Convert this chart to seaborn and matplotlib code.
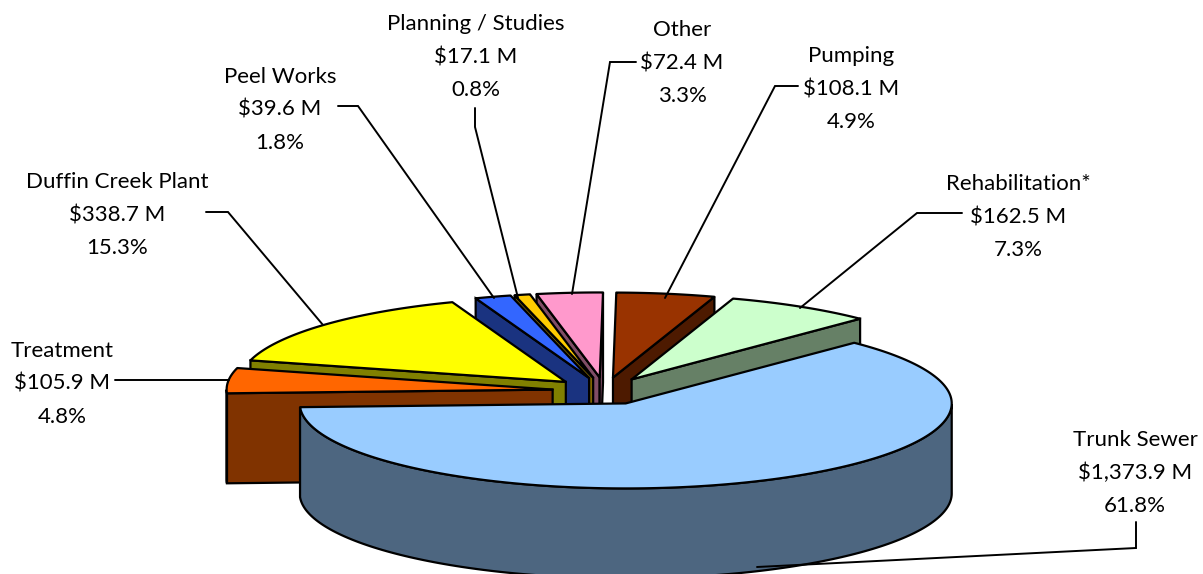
import numpy as np
import seaborn as sns
import matplotlib.pyplot as plt

# data, in pie order (clockwise)
categorias = ["Trunk Sewer", "Treatment", "Duffin Creek Plant", "Peel Works",
              "Planning / Studies", "Other", "Pumping", "Rehabilitation*"]
valores = [1373.9, 105.9, 338.7, 39.6, 17.1, 72.4, 108.1, 162.5]
etiquetas_valor = ["$1,373.9 M", "$105.9 M", "$338.7 M", "$39.6 M",
                   "$17.1 M", "$72.4 M", "$108.1 M", "$162.5 M"]
porcentajes = ["61.8%", "4.8%", "15.3%", "1.8%", "0.8%", "3.3%", "4.9%", "7.3%"]
colores = ["#99CCFF", "#FF6600", "#FFFF00", "#3366FF",
           "#FFCC00", "#FF99CC", "#993300", "#CCFFCC"]

# draw order, back to front
orden = ["Other", "Planning / Studies", "Peel Works", "Duffin Creek Plant",
         "Treatment", "Pumping", "Rehabilitation*", "Trunk Sewer"]

# label centre and leader line for every slice, in pixels
pos_texto = {"Trunk Sewer": (1135, 473), "Treatment": (62, 384), "Duffin Creek Plant": (117, 215),
             "Peel Works": (280, 110), "Planning / Studies": (476, 57), "Other": (682, 63),
             "Pumping": (851, 89), "Rehabilitation*": (1018, 217)}
guias = {"Trunk Sewer": [(757, 567), (1136, 548), (1136, 522)],
         "Treatment": [(229, 380), (115, 380)],
         "Duffin Creek Plant": [(323, 325), (228, 212), (206, 212)],
         "Peel Works": [(494, 298), (358, 106), (338, 106)],
         "Planning / Studies": [(518, 298), (475, 127), (475, 108)],
         "Other": [(572, 294), (610, 62), (636, 62)],
         "Pumping": [(665, 298), (775, 86), (798, 86)],
         "Rehabilitation*": [(800, 308), (917, 213), (962, 213)]}

sns.set_theme(style="white")
plt.rcParams["font.family"] = ["Lato", "DejaVu Sans"]

# pie geometry
cx, cy = 604.5, 391
rx, ry = 326, 85
alto = 90
expl = 0.16
inicio = 45.5
borde = "black"
lw = 1.6

fig = plt.figure(figsize=(12.03, 5.74), dpi=100)
ax = fig.add_axes([0, 0, 1, 1])
ax.set_xlim(0, 1203)
ax.set_ylim(574, 0)
ax.axis("off")


def punto(ox, oy, t):
    return ox + rx * np.cos(np.radians(t)), oy - ry * np.sin(np.radians(t))


def pared(xs, ys, color, z):
    # side face: the outline pushed down by the pie height
    xs = np.asarray(xs)
    ys = np.asarray(ys)
    ax.fill(np.r_[xs, xs[::-1]], np.r_[ys, ys[::-1] + alto], facecolor=color,
            edgecolor=borde, lw=lw, joinstyle="miter", zorder=z)


grados = np.array(valores) / sum(valores) * 360
t_ini = inicio - np.r_[0, np.cumsum(grados)[:-1]]
t_fin = t_ini - grados

for z, nombre in enumerate(orden):
    i = categorias.index(nombre)
    a, b = t_ini[i], t_fin[i]   # goes clockwise from a to b
    medio = (a + b) / 2
    ox = cx + expl * rx * np.cos(np.radians(medio))
    oy = cy - expl * ry * np.sin(np.radians(medio))
    color = np.array(plt.matplotlib.colors.to_rgb(colores[i]))
    oscuro = color * 0.5

    # radial faces, only the ones turned to the viewer
    if np.cos(np.radians(a)) < 0:
        x1, y1 = punto(ox, oy, a)
        pared([ox, x1], [oy, y1], oscuro, z * 3)
    if np.cos(np.radians(b)) > 0:
        x1, y1 = punto(ox, oy, b)
        pared([ox, x1], [oy, y1], oscuro, z * 3)

    # outer rim, front half only
    tt = np.linspace(a, b, 200)
    frente = np.sin(np.radians(tt)) < 0
    if frente.sum() > 1:
        xr, yr = punto(ox, oy, tt[frente])
        pared(xr, yr, oscuro, z * 3 + 1)

    # top face
    xa, ya = punto(ox, oy, tt)
    ax.fill(np.r_[ox, xa], np.r_[oy, ya], facecolor=color, edgecolor=borde,
            lw=lw, joinstyle="round", zorder=z * 3 + 2)

for i, nombre in enumerate(categorias):
    gx, gy = zip(*guias[nombre])
    ax.plot(gx, gy, color="black", lw=1.4, zorder=50, solid_joinstyle="miter")
    ax.text(*pos_texto[nombre], f"{nombre}\n{etiquetas_valor[i]}\n{porcentajes[i]}",
            ha="center", va="center", fontsize=16, linespacing=1.82, color="black", zorder=60)

fig.savefig("out.png", dpi=100)
